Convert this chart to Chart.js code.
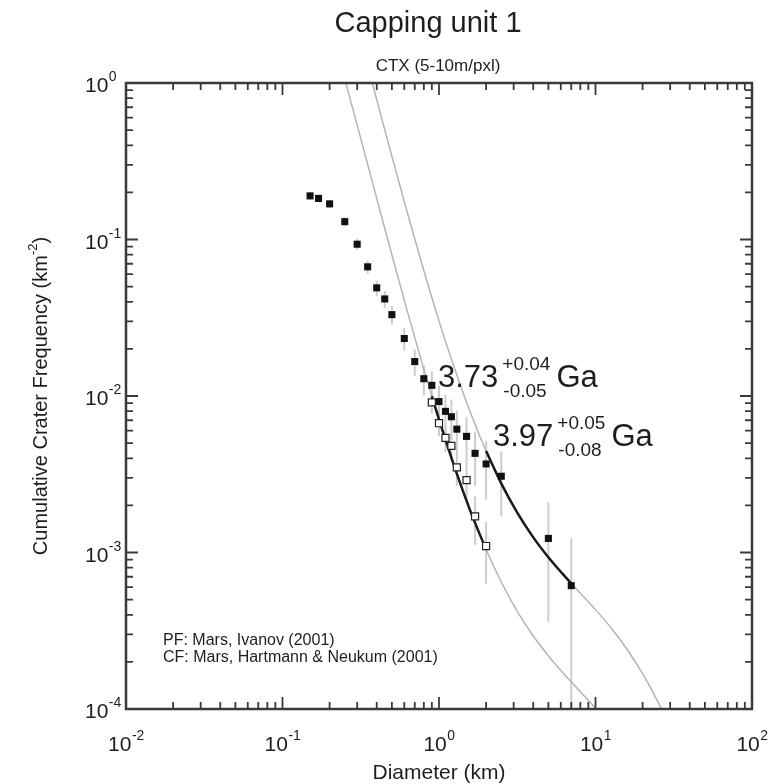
<!DOCTYPE html>
<html>
<head>
<meta charset="utf-8">
<script src="https://cdn.jsdelivr.net/npm/chart.js@4.4.1/dist/chart.umd.min.js"></script>
<style>
  html, body { margin: 0; padding: 0; background: #fff; }
  #wrap { width: 772px; height: 784px; }
</style>
</head>
<body>
<div id="wrap"><canvas id="cfd" width="772" height="784"></canvas></div>
<script>
// Crater counts, all craters (filled squares)
const diamFilled = [0.15, 0.17, 0.2, 0.25, 0.3, 0.35, 0.4, 0.45, 0.5, 0.6, 0.7, 0.8, 0.9, 1.0, 1.1, 1.2, 1.3, 1.5, 1.7, 2.0, 2.5, 5.0, 7.0];
const freqFilled = [0.190, 0.183, 0.169, 0.130, 0.0933, 0.0669, 0.0491, 0.0417, 0.0331, 0.0233, 0.0166, 0.0129, 0.0117, 0.00921, 0.00798, 0.00737, 0.00614, 0.00552, 0.0043, 0.00368, 0.00307, 0.00123, 0.000614];
const lowFilled  = [0.179, 0.172, 0.159, 0.121, 0.0857, 0.0605, 0.0436, 0.0366, 0.0286, 0.0195, 0.0134, 0.0101, 0.0090, 0.00683, 0.00577, 0.00524, 0.0042, 0.00368, 0.00267, 0.00218, 0.0017, 0.00036, 0];
const highFilled = [0.201, 0.194, 0.179, 0.139, 0.1009, 0.0733, 0.0546, 0.0468, 0.0376, 0.0271, 0.0198, 0.0157, 0.0144, 0.01159, 0.01019, 0.0095, 0.00808, 0.00736, 0.00593, 0.00518, 0.00444, 0.0021, 0.00123];

// Resurfaced unit (open squares)
const diamOpen = [0.9, 1.0, 1.1, 1.2, 1.3, 1.5, 1.7, 2.0];
const freqOpen = [0.0091, 0.0067, 0.0054, 0.0048, 0.0035, 0.0029, 0.0017, 0.0011];
const lowOpen  = [0.00774, 0.00553, 0.00436, 0.00382, 0.00266, 0.00214, 0.00112, 0.00063];
const highOpen = [0.01046, 0.00787, 0.00644, 0.00578, 0.00434, 0.00366, 0.00228, 0.00157];

// Isochrons (gray)
const isoDiamA = [0.1995, 0.2512, 0.3162, 0.3981, 0.5012, 0.631, 0.7943, 1, 1.259, 1.585, 1.995, 2.512, 3.162, 3.981, 5.012, 6.31, 7.943, 10, 12.59];
const isoFreqA = [2.415, 1.042, 0.4426, 0.1866, 0.0791, 0.0341, 0.01519, 0.00708, 0.003496, 0.001846, 0.001048, 0.000641, 0.000421, 0.000295, 0.000218, 0.0001667, 0.0001299, 0.0001012, 0.0000772];
const isoDiamB = [0.3162, 0.3981, 0.5012, 0.631, 0.7943, 1, 1.259, 1.585, 1.995, 2.512, 3.162, 3.981, 5.012, 6.31, 7.943, 10, 12.59, 15.85, 19.95, 25.12, 31.62];
const isoFreqB = [1.888, 0.7962, 0.3373, 0.1455, 0.06479, 0.0302, 0.01492, 0.007874, 0.004472, 0.002736, 0.001798, 0.001259, 0.000929, 0.000711, 0.000554, 0.0004315, 0.0003293, 0.0002418, 0.0001687, 0.0001106, 0.000068];

// Fitted ranges (black)
const fitDiamA = [0.9, 1.0, 1.259, 1.585, 2.0];
const fitFreqA = [0.00998, 0.00708, 0.003496, 0.001846, 0.001043];
const fitDiamB = [2.0, 2.512, 3.162, 3.981, 5.012, 6.31, 7.0];
const fitFreqB = [0.004448, 0.002736, 0.001798, 0.001259, 0.000929, 0.000711, 0.000635];

const xTickVals = [0.01, 0.1, 1, 10, 100];
const yTickVals = [0.0001, 0.001, 0.01, 0.1, 1];

const FONT = "'Liberation Sans', Arial, Helvetica, sans-serif";
const INK = '#1e1e1e';

function pts(xs, ys) {
  return xs.map((x, i) => ({ x: x, y: ys[i] }));
}

// gray error bars
const errorBars = {
  id: 'errorBars',
  beforeDatasetsDraw(chart) {
    const ctx = chart.ctx, a = chart.chartArea;
    const xs = chart.scales.x, ys = chart.scales.y;
    ctx.save();
    ctx.beginPath();
    ctx.rect(a.left, a.top, a.right - a.left, a.bottom - a.top);
    ctx.clip();
    ctx.strokeStyle = '#cdcdcd';
    ctx.lineWidth = 2;
    const draw = (d, lo, hi) => {
      d.forEach((v, i) => {
        const px = xs.getPixelForValue(v);
        const y1 = lo[i] > 0 ? ys.getPixelForValue(lo[i]) : a.bottom;
        const y2 = ys.getPixelForValue(hi[i]);
        ctx.beginPath();
        ctx.moveTo(px, y1);
        ctx.lineTo(px, y2);
        ctx.stroke();
      });
    };
    draw(diamFilled, lowFilled, highFilled);
    draw(diamOpen, lowOpen, highOpen);
    ctx.restore();
  }
};

// frame, inward ticks, labels and annotations
function supText(ctx, x, y, base, sup, bigSize, smallSize, raise) {
  ctx.font = bigSize + 'px ' + FONT;
  ctx.fillText(base, x, y);
  const w = ctx.measureText(base).width;
  ctx.font = smallSize + 'px ' + FONT;
  ctx.fillText(sup, x + w + 0.5, y - raise);
  return w + 0.5 + ctx.measureText(sup).width;
}

const decorations = {
  id: 'decorations',
  afterDraw(chart) {
    const ctx = chart.ctx, a = chart.chartArea;
    const xs = chart.scales.x, ys = chart.scales.y;
    ctx.save();
    ctx.strokeStyle = '#3a3a3a';
    ctx.lineWidth = 2.5;
    ctx.strokeRect(a.left, a.top, a.right - a.left, a.bottom - a.top);

    ctx.lineWidth = 1.8;
    const minorTicks = (lo, hi) => {
      const out = [];
      for (let e = Math.round(Math.log10(lo)); e < Math.round(Math.log10(hi)); e++) {
        for (let k = 1; k <= 9; k++) out.push([k * Math.pow(10, e), k === 1]);
      }
      out.push([hi, true]);
      return out;
    };
    minorTicks(xs.min, xs.max).forEach(([v, major]) => {
      const p = xs.getPixelForValue(v), len = major ? 12 : 7;
      ctx.beginPath();
      ctx.moveTo(p, a.bottom); ctx.lineTo(p, a.bottom - len);
      ctx.moveTo(p, a.top); ctx.lineTo(p, a.top + len);
      ctx.stroke();
    });
    minorTicks(ys.min, ys.max).forEach(([v, major]) => {
      const p = ys.getPixelForValue(v), len = major ? 12 : 7;
      ctx.beginPath();
      ctx.moveTo(a.left, p); ctx.lineTo(a.left + len, p);
      ctx.moveTo(a.right, p); ctx.lineTo(a.right - len, p);
      ctx.stroke();
    });

    ctx.fillStyle = INK;
    ctx.textBaseline = 'alphabetic';
    ctx.textAlign = 'left';

    // x tick labels
    xTickVals.forEach(v => {
      const p = xs.getPixelForValue(v);
      const e = String(Math.round(Math.log10(v)));
      ctx.font = '21px ' + FONT;
      const w1 = ctx.measureText('10').width;
      ctx.font = '14px ' + FONT;
      const w2 = ctx.measureText(e).width;
      supText(ctx, p - (w1 + w2) / 2, 751, '10', e, 21, 14, 11);
    });
    // y tick labels
    yTickVals.forEach(v => {
      const p = ys.getPixelForValue(v);
      const e = String(Math.round(Math.log10(v)));
      supText(ctx, 85, p + 9, '10', e, 21, 14, 11);
    });

    // titles
    ctx.textAlign = 'center';
    ctx.font = '29px ' + FONT;
    ctx.fillText('Capping unit 1', 428, 32);
    ctx.font = '17px ' + FONT;
    ctx.fillText('CTX (5-10m/pxl)', 438, 71);
    ctx.font = '21px ' + FONT;
    ctx.fillText('Diameter (km)', (a.left + a.right) / 2, 779);

    // y axis title with superscript
    ctx.save();
    ctx.translate(40, (a.top + a.bottom) / 2);
    ctx.rotate(-Math.PI / 2);
    ctx.textAlign = 'left';
    ctx.font = '20px ' + FONT;
    const t1 = 'Cumulative Crater Frequency (km';
    const w1 = ctx.measureText(t1).width;
    ctx.font = '13px ' + FONT;
    const w2 = ctx.measureText('-2').width;
    ctx.font = '20px ' + FONT;
    const w3 = ctx.measureText(')').width;
    const x0 = -(w1 + w2 + w3) / 2;
    ctx.fillText(t1, x0, 7);
    ctx.font = '13px ' + FONT;
    ctx.fillText('-2', x0 + w1, -3);
    ctx.font = '20px ' + FONT;
    ctx.fillText(')', x0 + w1 + w2, 7);
    ctx.restore();

    // model ages
    ctx.textAlign = 'left';
    const age = (x, y, val, plus, minus) => {
      ctx.font = '31px ' + FONT;
      ctx.fillText(val, x, y);
      const w = ctx.measureText(val).width;
      ctx.font = '19px ' + FONT;
      ctx.fillText(plus, x + w + 4, y - 17);
      ctx.fillText(minus, x + w + 5, y + 10);
      const ws = Math.max(ctx.measureText(plus).width, ctx.measureText(minus).width);
      ctx.font = '31px ' + FONT;
      ctx.fillText('Ga', x + w + ws + 10, y);
    };
    age(438, 387, '3.73', '+0.04', '-0.05');
    age(493, 446, '3.97', '+0.05', '-0.08');

    // notes
    ctx.font = '16px ' + FONT;
    ctx.fillText('PF: Mars, Ivanov (2001)', 163, 645);
    ctx.fillText('CF: Mars, Hartmann & Neukum (2001)', 163, 662);
    ctx.restore();
  }
};

new Chart(document.getElementById('cfd'), {
  type: 'scatter',
  data: {
    datasets: [
      {
        label: 'resurfaced',
        data: pts(diamOpen, freqOpen),
        pointStyle: 'rect',
        pointRadius: 5,
        backgroundColor: '#ffffff',
        borderColor: '#222222',
        borderWidth: 1.2,
        showLine: false
      },
      {
        label: 'all craters',
        data: pts(diamFilled, freqFilled),
        pointStyle: 'rect',
        pointRadius: 5,
        backgroundColor: '#111111',
        borderColor: '#111111',
        borderWidth: 0,
        showLine: false
      },
      {
        label: 'fit 3.73 Ga',
        data: pts(fitDiamA, fitFreqA),
        showLine: true,
        pointRadius: 0,
        borderColor: '#1a1a1a',
        borderWidth: 2.5,
        cubicInterpolationMode: 'monotone'
      },
      {
        label: 'fit 3.97 Ga',
        data: pts(fitDiamB, fitFreqB),
        showLine: true,
        pointRadius: 0,
        borderColor: '#1a1a1a',
        borderWidth: 2.5,
        cubicInterpolationMode: 'monotone'
      },
      {
        label: 'isochron 3.73 Ga',
        data: pts(isoDiamA, isoFreqA),
        showLine: true,
        pointRadius: 0,
        borderColor: '#b4b4b4',
        borderWidth: 1.5,
        cubicInterpolationMode: 'monotone'
      },
      {
        label: 'isochron 3.97 Ga',
        data: pts(isoDiamB, isoFreqB),
        showLine: true,
        pointRadius: 0,
        borderColor: '#b4b4b4',
        borderWidth: 1.5,
        cubicInterpolationMode: 'monotone'
      }
    ]
  },
  options: {
    responsive: false,
    animation: false,
    events: [],
    layout: { padding: { top: 83, right: 20, left: 0, bottom: 0 } },
    plugins: { legend: { display: false }, tooltip: { enabled: false }, title: { display: false } },
    scales: {
      x: {
        type: 'logarithmic', min: 0.01, max: 100,
        ticks: { display: false }, grid: { display: false }, border: { display: false },
        afterFit: s => { s.height = 75; }
      },
      y: {
        type: 'logarithmic', min: 0.0001, max: 1,
        ticks: { display: false }, grid: { display: false }, border: { display: false },
        afterFit: s => { s.width = 126; }
      }
    }
  },
  plugins: [errorBars, decorations]
});
</script>
</body>
</html>
